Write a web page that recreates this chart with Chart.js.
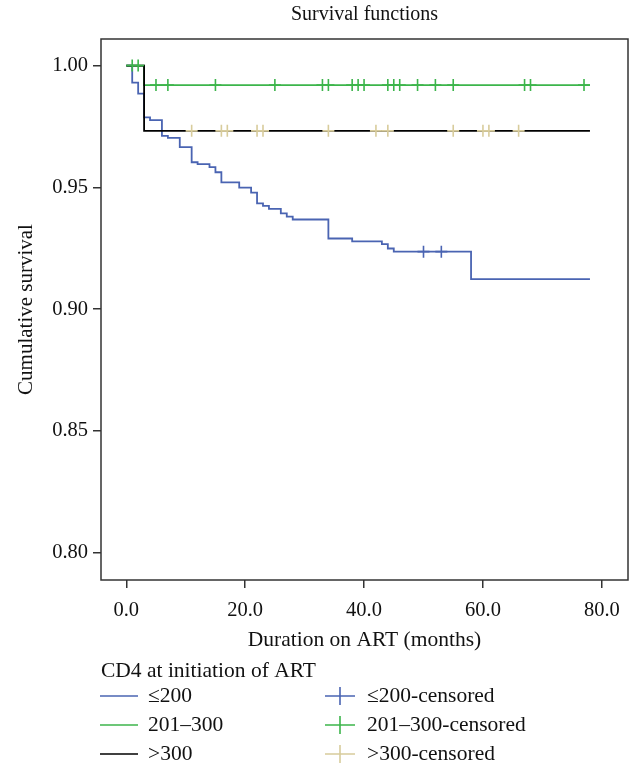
<!DOCTYPE html>
<html lang="en">
<head>
    <meta charset="UTF-8">
    <title>Survival functions</title>
    <script src="https://cdn.jsdelivr.net/npm/chart.js"></script>
    <style>
        html, body { margin: 0; padding: 0; background: #fff; }
        .chart-box { width: 642px; height: 780px; position: relative; }
    </style>
</head>
<body>
    <div class="chart-box">
        <canvas id="survivalChart"></canvas>
    </div>
    <script>
        // Kaplan-Meier steps (months, cumulative survival)
        const blueTimes = [0, 1, 2, 3, 4, 6, 7, 9, 11, 12, 14, 15, 16, 19, 21, 22, 23, 24, 26, 27, 28, 34, 38, 43, 44, 45, 58, 78];
        const blueSurv = [1.000, 0.9930, 0.9885, 0.9787, 0.9776, 0.9711, 0.9703, 0.9665, 0.9603, 0.9595, 0.9583, 0.9562, 0.9520, 0.9499, 0.9478, 0.9434, 0.9424, 0.9412, 0.9393, 0.9380, 0.9368, 0.9290, 0.9278, 0.9267, 0.9249, 0.9236, 0.9123, 0.9123];
        const greenTimes = [0, 3, 78];
        const greenSurv = [1.000, 0.9920, 0.9920];
        const blackTimes = [0, 3, 78];
        const blackSurv = [1.000, 0.9732, 0.9732];

        // censored observations (months)
        const blueCensored = [50, 53];
        const greenCensored = [1, 2, 5, 7, 15, 25, 33, 34, 38, 39, 40, 44, 45, 46, 49, 52, 55, 67, 68, 77];
        const beigeCensored = [11, 16, 17, 22, 23, 34, 42, 44, 55, 60, 61, 66];

        const xTicks = [0, 20, 40, 60, 80];
        const yTicks = [0.80, 0.85, 0.90, 0.95, 1.00];

        const legendTitle = 'CD4 at initiation of ART';
        const lineLabels = ['\u2264200', '201\u2013300', '>300'];
        const censorLabels = ['\u2264200-censored', '201\u2013300-censored', '>300-censored'];

        const BLUE = '#4a64b2';
        const GREEN = '#3cb54b';
        const BLACK = '#000000';
        const BEIGE = '#d8cc9c';
        const FONT = '"Liberation Serif", "DejaVu Serif", serif';

        function steps(times, surv) {
            return times.map((t, i) => ({ x: t, y: surv[i] }));
        }
        function survAt(times, surv, t) {
            let s = surv[0];
            for (let i = 0; i < times.length; i++) {
                if (times[i] <= t) s = surv[i];
            }
            return s;
        }
        function censorPoints(cens, times, surv) {
            return cens.map(t => ({ x: t, y: survAt(times, surv, t) }));
        }

        function lineSet(data, color) {
            return {
                data: data, borderColor: color, borderWidth: 1.8,
                stepped: true, pointRadius: 0, fill: false
            };
        }
        function censorSet(data, color) {
            return {
                data: data, showLine: false, borderColor: color, backgroundColor: color,
                pointStyle: 'cross', pointRadius: 6, pointBorderWidth: 1.6, pointHoverRadius: 6
            };
        }

        // plot box, title and legend are drawn here
        const decorations = {
            id: 'decorations',
            afterDatasetsDraw(chart) {
                const ctx = chart.ctx;
                const a = chart.chartArea;
                ctx.save();
                ctx.strokeStyle = '#333';
                ctx.lineWidth = 1.5;
                ctx.strokeRect(a.left, a.top, a.right - a.left, a.bottom - a.top);

                ctx.fillStyle = '#111';
                ctx.textBaseline = 'middle';
                ctx.textAlign = 'center';
                ctx.font = '20px ' + FONT;
                ctx.fillText('Survival functions', (a.left + a.right) / 2, 15);

                ctx.textAlign = 'left';
                ctx.font = '21.5px ' + FONT;
                ctx.fillText(legendTitle, 101, 671);

                const rows = [696, 725, 754];
                const lineColors = [BLUE, GREEN, BLACK];
                const crossColors = [BLUE, GREEN, BEIGE];
                rows.forEach((y, i) => {
                    ctx.strokeStyle = lineColors[i];
                    ctx.lineWidth = 1.6;
                    ctx.beginPath();
                    ctx.moveTo(100, y);
                    ctx.lineTo(138, y);
                    ctx.stroke();
                    ctx.fillText(lineLabels[i], 148, y);

                    ctx.strokeStyle = crossColors[i];
                    ctx.beginPath();
                    ctx.moveTo(325, y);
                    ctx.lineTo(355, y);
                    ctx.moveTo(340, y - 9);
                    ctx.lineTo(340, y + 9);
                    ctx.stroke();
                    ctx.fillText(censorLabels[i], 367, y);
                });
                ctx.restore();
            }
        };

        new Chart(document.getElementById('survivalChart'), {
            type: 'line',
            data: {
                datasets: [
                    censorSet(censorPoints(beigeCensored, blackTimes, blackSurv), BEIGE),
                    censorSet(censorPoints(greenCensored, greenTimes, greenSurv), GREEN),
                    censorSet(censorPoints(blueCensored, blueTimes, blueSurv), BLUE),
                    lineSet(steps(blackTimes, blackSurv), BLACK),
                    lineSet(steps(greenTimes, greenSurv), GREEN),
                    lineSet(steps(blueTimes, blueSurv), BLUE)
                ]
            },
            options: {
                responsive: true,
                maintainAspectRatio: false,
                animation: false,
                layout: { padding: { left: 0, right: 14, top: 39, bottom: 124 } },
                plugins: {
                    legend: { display: false },
                    tooltip: { enabled: false }
                },
                scales: {
                    x: {
                        type: 'linear',
                        min: -4.25,
                        max: 84.4,
                        afterBuildTicks: scale => { scale.ticks = xTicks.map(v => ({ value: v })); },
                        afterFit: scale => { scale.height = 76; },
                        border: { display: false },
                        grid: { drawOnChartArea: false, drawTicks: true, tickLength: 8, color: '#333', lineWidth: 1.5 },
                        ticks: {
                            color: '#111', padding: 10,
                            font: { family: FONT, size: 20.5 },
                            maxRotation: 0,
                            callback: v => Number(v).toFixed(1)
                        },
                        title: {
                            display: true, text: 'Duration on ART (months)', color: '#111',
                            font: { family: FONT, size: 21.5 },
                            padding: { top: 0, bottom: 3 }
                        }
                    },
                    y: {
                        type: 'linear',
                        min: 0.7888,
                        max: 1.0109,
                        afterBuildTicks: scale => { scale.ticks = yTicks.map(v => ({ value: v })); },
                        afterFit: scale => { scale.width = 101; },
                        border: { display: false },
                        grid: { drawOnChartArea: false, drawTicks: true, tickLength: 8, color: '#333', lineWidth: 1.5 },
                        ticks: {
                            color: '#111', padding: 5,
                            font: { family: FONT, size: 20.5 },
                            callback: v => Number(v).toFixed(2)
                        },
                        title: {
                            display: true, text: 'Cumulative survival', color: '#111',
                            font: { family: FONT, size: 21 },
                            padding: { top: 14, bottom: 0 }
                        }
                    }
                }
            },
            plugins: [decorations]
        });
    </script>
</body>
</html>
